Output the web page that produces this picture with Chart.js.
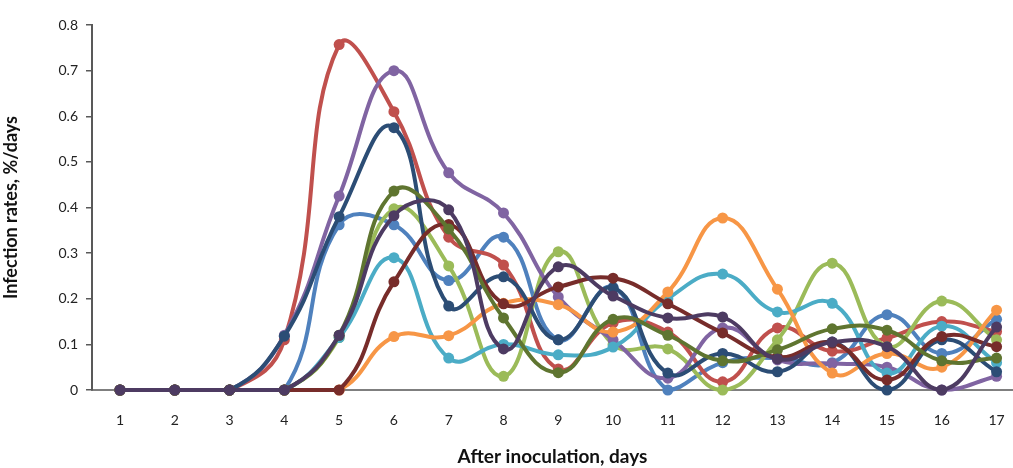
<!DOCTYPE html>
<html>
<head>
<meta charset="utf-8">
<script src="https://cdn.jsdelivr.net/npm/chart.js@4"></script>
<style>
  html, body { margin: 0; padding: 0; background: #fff; }
  #wrap { width: 1013px; height: 468px; position: relative; }
</style>
</head>
<body>
<div id="wrap"><canvas id="chart"></canvas></div>
<script>
// days after inoculation
const days = [1, 2, 3, 4, 5, 6, 7, 8, 9, 10, 11, 12, 13, 14, 15, 16, 17];
const yTicks = [0, 0.1, 0.2, 0.3, 0.4, 0.5, 0.6, 0.7, 0.8];

// infection rates, one array per line
const blue       = [0, 0, 0, 0, 0.362, 0.362, 0.24, 0.335, 0.11, 0.225, 0, 0.06, 0.07, 0.06, 0.165, 0.08, 0.155];
const red        = [0, 0, 0, 0.11, 0.757, 0.61, 0.335, 0.274, 0.046, 0.147, 0.127, 0.018, 0.136, 0.085, 0.114, 0.15, 0.128];
const lightGreen = [0, 0, 0, 0, 0.115, 0.397, 0.272, 0.03, 0.303, 0.1, 0.09, 0, 0.11, 0.278, 0.095, 0.195, 0.11];
const purple     = [0, 0, 0, 0.12, 0.425, 0.70, 0.476, 0.388, 0.204, 0.11, 0.026, 0.136, 0.066, 0.058, 0.05, 0, 0.03];
const aqua       = [0, 0, 0, 0, 0.115, 0.29, 0.07, 0.1, 0.077, 0.094, 0.2, 0.254, 0.171, 0.19, 0.037, 0.14, 0.06];
const orange     = [0, 0, 0, 0, 0, 0.117, 0.119, 0.19, 0.187, 0.127, 0.215, 0.377, 0.221, 0.037, 0.08, 0.05, 0.175];
const darkBlue   = [0, 0, 0, 0.118, 0.38, 0.575, 0.184, 0.248, 0.11, 0.224, 0.037, 0.08, 0.04, 0.105, 0, 0.11, 0.04];
const darkRed    = [0, 0, 0, 0, 0, 0.237, 0.363, 0.189, 0.226, 0.245, 0.189, 0.125, 0.072, 0.103, 0.022, 0.117, 0.095];
const darkGreen  = [0, 0, 0, 0, 0.12, 0.436, 0.353, 0.158, 0.038, 0.155, 0.12, 0.064, 0.088, 0.134, 0.131, 0.064, 0.07];
const darkPurple = [0, 0, 0, 0, 0.12, 0.382, 0.395, 0.09, 0.27, 0.206, 0.158, 0.16, 0.068, 0.105, 0.095, 0, 0.138];

const seriesList = [blue, red, lightGreen, purple, aqua, orange, darkBlue, darkRed, darkGreen, darkPurple];
const colors = ['#4F81BD', '#C0504D', '#9BBB59', '#8064A2', '#4BACC6', '#F79646', '#2C4D75', '#772C2A', '#5F7530', '#4D3B62'];

const datasets = seriesList.map((vals, i) => ({
    data: vals.map((v, j) => ({ x: days[j], y: v })),
    borderColor: colors[i],
    backgroundColor: colors[i],
    pointBackgroundColor: colors[i],
    pointBorderWidth: 0,
    pointRadius: 5.5,
    borderWidth: 4,
    tension: 0.45,
    clip: false,
    order: seriesList.length - i // later series drawn on top
}));

const tickFont = { family: 'Lato', size: 14 };

new Chart(document.getElementById('chart'), {
    type: 'line',
    data: { datasets: datasets },
    options: {
        responsive: true,
        maintainAspectRatio: false,
        animation: false,
        layout: { autoPadding: false, padding: { top: 25, right: 0, bottom: 0, left: 0 } },
        plugins: { legend: { display: false }, tooltip: { enabled: false } },
        scales: {
            x: {
                type: 'linear',
                min: 0.489,
                max: 17.3,
                afterBuildTicks: scale => { scale.ticks = days.map(d => ({ value: d })); },
                afterFit: scale => {
                    scale.height = 78;
                    // axis runs to the right edge, like the original
                    scale.paddingLeft = 0;
                    scale.paddingRight = 0;
                },
                grid: { display: false },
                border: { display: true, color: '#7f7f7f', width: 2 },
                ticks: { color: '#222', font: tickFont, padding: 14, maxRotation: 0, autoSkip: false },
                title: { display: true, text: 'After inoculation, days', color: '#111', font: { family: 'Lato', size: 19, weight: 'bold' }, padding: { top: 0, bottom: 0 } }
            },
            y: {
                min: 0,
                max: 0.8,
                afterBuildTicks: scale => { scale.ticks = yTicks.map(v => ({ value: v })); },
                afterFit: scale => { scale.width = 92; },
                grid: { drawOnChartArea: false, tickLength: 6, color: '#595959', lineWidth: 1.5 },
                border: { display: true, color: '#595959', width: 2 },
                ticks: { color: '#222', font: tickFont, padding: 8, callback: v => v === 0 ? '0' : v.toFixed(1) },
                title: { display: true, text: 'Infection rates, %/days', color: '#111', font: { family: 'Lato', size: 18, weight: 'bold' }, padding: { top: 0, bottom: 4 } }
            }
        }
    }
});
</script>
</body>
</html>
